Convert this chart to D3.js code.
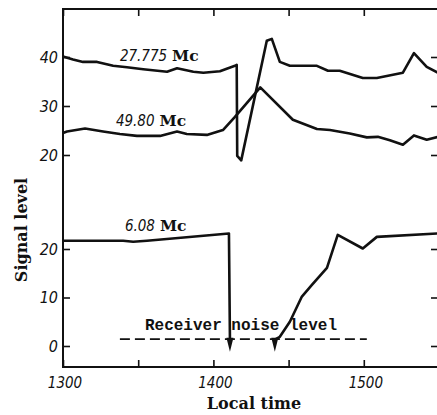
<!DOCTYPE html>
<html>
<head>
<meta charset="utf-8">
<script src="https://cdn.jsdelivr.net/npm/d3@7"></script>
<style>
  html, body { margin: 0; padding: 0; background: #fff; }
  svg { display: block; }
  .curve { fill: none; stroke: #111; stroke-width: 2.6; stroke-linejoin: round; }
  .frame { stroke: #111; stroke-width: 2; fill: none; }
  .tick line { stroke: #111; stroke-width: 1.6; }
  .num { font-family: "DejaVu Sans Condensed", "DejaVu Sans", sans-serif; font-stretch: condensed; font-style: italic; font-size: 16px; fill: #111; }
  .bold { font-family: "DejaVu Serif", serif; font-weight: bold; fill: #111; }
  .mono { font-family: "Liberation Mono", "DejaVu Sans Mono", monospace; font-weight: bold; font-size: 16px; fill: #111; }
  .noise { stroke: #111; stroke-width: 1.8; stroke-dasharray: 10 5; }
</style>
</head>
<body>
<div id="chart"></div>
<script>
// time in minutes after 1300 local time
const t27 = [0, 4, 8, 13.6, 20, 25.5, 32, 41.5, 45.5, 52, 56, 62.6, 68.6, 69.3, 69.5, 71.1, 81.3, 83.3, 86.5, 90.5, 101.3, 105.7, 110.4, 119.6, 125.2, 135.6, 140, 145.1, 149.5];
const v27 = [40.1, 39.5, 39, 39, 38.2, 37.9, 37.5, 37, 37.7, 37, 36.8, 37.1, 38.2, 38.4, 19.8, 18.9, 43.3, 43.7, 39, 38.2, 38.2, 37.2, 37.2, 35.7, 35.7, 36.8, 40.8, 38, 36.8];

const t49 = [0, 1.6, 8.8, 16, 22.7, 29.5, 38.7, 45.5, 49.4, 57.4, 63.8, 68.6, 78.7, 91.7, 101.3, 106.5, 114.4, 121.2, 125.6, 130.4, 135.6, 140, 145.1, 149.5];
const v49 = [24.5, 24.8, 25.4, 24.8, 24.3, 23.9, 23.9, 24.8, 24.3, 24.1, 25.1, 27.8, 33.8, 27.2, 25.3, 25.1, 24.4, 23.6, 23.7, 23, 22.1, 24, 23.1, 23.7];

// 6.08 Mc: two pieces, each ending at an arrow down to the noise level
const t6a = [0, 24, 28, 33.5, 66.2, 66.6];
const v6a = [21.7, 21.7, 21.5, 21.7, 23.2, -1.2];
const t6b = [84.5, 86.5, 90.5, 95.3, 99.3, 105.3, 109.6, 119.6, 125.2, 149.5];
const v6b = [-1.2, 1.9, 5, 10.2, 12.6, 16.1, 22.9, 20.1, 22.5, 23.2];
const arrowTimes = [66.6, 84.5];
const arrowLevel = -1.2;

const noiseLevel = 1.4;
const noiseSpan = [22.7, 121.2];

const xTicks = [0, 30, 60, 90, 120, 150];
const xLabelTicks = [0, 60, 120];
const xLabels = ["1300", "1400", "1500"];
const yTopTicks = [20, 30, 40];
const yBotTicks = [0, 10, 20];

const W = 437, H = 415;
const frameTop = 9, frameBottom = 367, frameLeft = 63, frameRight = 439;

const x = d3.scaleLinear([0, 150], [frameLeft, frameRight]);
const yTop = d3.scaleLinear([20, 40], [155, 57]);
const yBot = d3.scaleLinear([0, 20], [346, 249]);

const svg = d3.select("#chart").append("svg").attr("width", W).attr("height", H);

// frame
svg.append("path").attr("class", "frame")
  .attr("d", `M${frameRight},${frameTop}H${frameLeft}V${frameBottom}H${frameRight}V${frameTop}`);

// x ticks, bottom and top, pointing inward
const bx = svg.append("g").attr("transform", `translate(0,${frameBottom})`)
  .call(d3.axisBottom(x).tickValues(xTicks).tickSize(-7).tickFormat(""));
const tx = svg.append("g").attr("transform", `translate(0,${frameTop})`)
  .call(d3.axisTop(x).tickValues(xTicks).tickSize(-7).tickFormat(""));
[bx, tx].forEach((a) => a.select(".domain").remove());

// y ticks, left (labelled) and right (bare), pointing inward
function yAxes(scale, ticks) {
  const l = svg.append("g").attr("transform", `translate(${frameLeft},0)`)
    .call(d3.axisLeft(scale).tickValues(ticks).tickSize(-7).tickPadding(5));
  l.select(".domain").remove();
  l.selectAll("text").attr("class", "num").attr("font-size", null).attr("font-family", null);
  const r = svg.append("g").attr("transform", `translate(${frameRight},0)`)
    .call(d3.axisRight(scale).tickValues(ticks).tickSize(-8).tickFormat(""));
  r.select(".domain").remove();
}
yAxes(yTop, yTopTicks);
yAxes(yBot, yBotTicks);
svg.selectAll(".tick line").attr("stroke", "#111");

// x labels
svg.append("g").selectAll("text").data(xLabelTicks).join("text")
  .attr("class", "num").style("font-size", "15px")
  .attr("x", (d) => x(d) + 2).attr("y", frameBottom + 21)
  .attr("text-anchor", "middle").text((d, i) => xLabels[i]);

svg.append("text").attr("class", "bold").attr("font-size", 16)
  .attr("x", 254).attr("y", 409).attr("text-anchor", "middle").text("Local time");
svg.append("text").attr("class", "bold").attr("font-size", 16)
  .attr("transform", "translate(27,230) rotate(-90)")
  .attr("text-anchor", "middle").text("Signal level");

// curves
const pts = (ts, vs) => ts.map((t, i) => [t, vs[i]]);
const lineTop = d3.line().x((d) => x(d[0])).y((d) => yTop(d[1]));
const lineBot = d3.line().x((d) => x(d[0])).y((d) => yBot(d[1]));
svg.append("path").attr("class", "curve").attr("d", lineTop(pts(t27, v27)));
svg.append("path").attr("class", "curve").attr("d", lineTop(pts(t49, v49)));
svg.append("path").attr("class", "curve").attr("d", lineBot(pts(t6a, v6a.slice(0, -1).concat([v6a[v6a.length - 1] + 2.5]))));
svg.append("path").attr("class", "curve").attr("d", lineBot(pts(t6b, [v6b[0] + 2.5].concat(v6b.slice(1)))));

// arrowheads pointing down to the noise level
svg.append("g").selectAll("path").data(arrowTimes).join("path")
  .attr("fill", "#111")
  .attr("d", (t) => {
    const px = x(t), py = yBot(arrowLevel);
    return `M${px},${py}L${px - 3.5},${py - 14}L${px + 3.5},${py - 14}Z`;
  });

// receiver noise level
svg.append("line").attr("class", "noise")
  .attr("x1", x(noiseSpan[0])).attr("x2", x(noiseSpan[1]))
  .attr("y1", yBot(noiseLevel)).attr("y2", yBot(noiseLevel));
svg.append("text").attr("class", "mono")
  .attr("x", x(32.7)).attr("y", yBot(3.3)).text("Receiver noise level");

// curve labels
function label(tx, ty, num) {
  const t = svg.append("text").attr("x", tx).attr("y", ty);
  t.append("tspan").attr("class", "num").style("font-size", "15px").text(num);
  t.append("tspan").attr("class", "bold").attr("font-size", 15.5).attr("dx", 5).text("Mc");
}
label(x(22.7), yTop(39.2), "27.775");
label(x(21.1), yTop(25.9), "49.80");
label(x(24.7), yBot(23.7), "6.08");
</script>
</body>
</html>
